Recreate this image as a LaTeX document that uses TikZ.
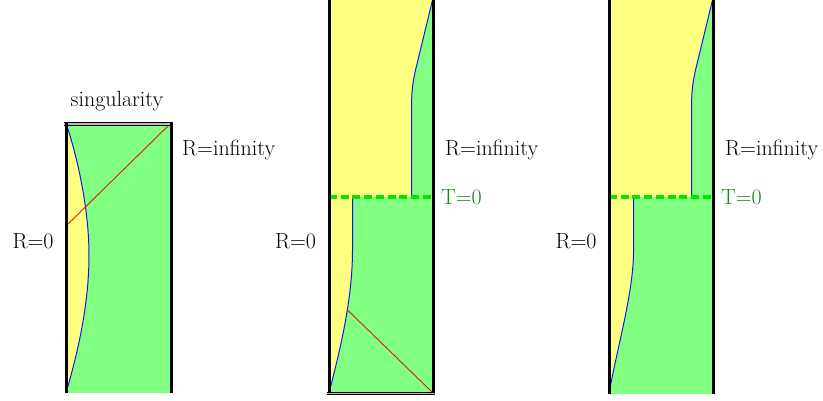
\documentclass[tikz,border=0pt]{standalone}
\definecolor{yel}{RGB}{255,255,128}
\definecolor{grn}{RGB}{128,255,128}
\definecolor{tgreen}{RGB}{20,135,20}
\definecolor{dashgreen}{RGB}{0,230,0}
\definecolor{curveblue}{RGB}{20,20,240}
\definecolor{linered}{RGB}{235,20,20}
\tikzset{
  border/.style={line width=3pt,black},
  sing/.style={draw=black,line width=1.1pt,double=gray!55,double distance=1.6pt},
  worldline/.style={curveblue,line width=1pt},
  ray/.style={linered,line width=0.9pt},
  tzero/.style={dashgreen,line width=4pt,dash pattern=on 8pt off 3.7pt},
  lab/.style={inner sep=0pt,font=\fontsize{22}{26}\selectfont,text=black},
  tlab/.style={lab,text=tgreen},
}
\begin{document}
\begin{tikzpicture}[x=1pt,y=-1pt]
\useasboundingbox (0,0) rectangle (823,400);
% ---------------- left diagram ----------------
\fill[grn] (66,123) rectangle (171,393);
\fill[yel] (66,123) .. controls (80,165) and (89,215) .. (89,255) .. controls (89,300) and (80,345) .. (66,393) -- cycle;
\draw[worldline] (66,123) .. controls (80,165) and (89,215) .. (89,255) .. controls (89,300) and (80,345) .. (66,393);
\coordinate (la) at (66,226);
\coordinate (lb) at (170,124);
\draw[ray] (la) -- (lb);
\coordinate (lt1) at (64,124);
\coordinate (lt2) at (173,124);
\draw[sing] (lt1) -- (lt2);
\coordinate (ll1) at (66,122);
\coordinate (ll2) at (66,393);
\coordinate (lr1) at (171,122);
\coordinate (lr2) at (171,393);
\draw[border] (ll1) -- (ll2);
\draw[border] (lr1) -- (lr2);
\node[lab] (singlab) at (117,101) {singularity};
\node[lab,anchor=west] (linf) at (182,150) {R=infinity};
\node[lab] (lzero) at (33,241.5) {R=0};
% ---------------- middle diagram ----------------
\fill[yel] (329,-5) rectangle (433,197);
\fill[grn] (434,-6) -- (416.5,66) .. controls (412.5,82) and (411.5,92) .. (411.5,110) -- (411.5,197) -- (433,197) -- cycle;
\draw[worldline] (434,-6) -- (416.5,66) .. controls (412.5,82) and (411.5,92) .. (411.5,110) -- (411.5,197);
\fill[grn] (329,197) rectangle (433,393);
\fill[yel] (329,197) -- (352.5,197) -- (352.5,250) .. controls (352.5,300) and (340,350) .. (329,393) -- cycle;
\draw[worldline] (352.5,197) -- (352.5,250) .. controls (352.5,300) and (340,350) .. (329,393);
\coordinate (ma) at (347,309.5);
\coordinate (mb) at (432,392);
\draw[ray] (ma) -- (mb);
\coordinate (md1) at (329,197);
\coordinate (md2) at (433,197);
\draw[tzero] (md1) -- (md2);
\coordinate (mb1) at (327,393.5);
\coordinate (mb2) at (435,393.5);
\draw[sing] (mb1) -- (mb2);
\coordinate (ml1) at (329,-5);
\coordinate (ml2) at (329,393);
\coordinate (mr1) at (433,-5);
\coordinate (mr2) at (433,393);
\draw[border] (ml1) -- (ml2);
\draw[border] (mr1) -- (mr2);
\node[lab,anchor=west] (minf) at (445,150) {R=infinity};
\node[tlab,anchor=west] (mt) at (441,197) {T=0};
\node[lab] (mzero) at (295.5,241.5) {R=0};
% ---------------- right diagram ----------------
\fill[yel] (609,-5) rectangle (713,197);
\fill[grn] (714,-6) -- (696.5,66) .. controls (692.5,82) and (691.5,92) .. (691.5,110) -- (691.5,197) -- (713,197) -- cycle;
\draw[worldline] (714,-6) -- (696.5,66) .. controls (692.5,82) and (691.5,92) .. (691.5,110) -- (691.5,197);
\fill[grn] (609,197) rectangle (713,394);
\fill[yel] (609,197) -- (633.5,197) -- (633.5,255) .. controls (632.5,295) and (618,345) .. (609,393) -- cycle;
\draw[worldline] (633.5,197) -- (633.5,255) .. controls (632.5,295) and (618,345) .. (609,393);
\coordinate (rd1) at (609,197);
\coordinate (rd2) at (713,197);
\draw[tzero] (rd1) -- (rd2);
\coordinate (rl1) at (609,-5);
\coordinate (rl2) at (609,394);
\coordinate (rr1) at (713,-5);
\coordinate (rr2) at (713,394);
\draw[border] (rl1) -- (rl2);
\draw[border] (rr1) -- (rr2);
\node[lab,anchor=west] (rinf) at (725,150) {R=infinity};
\node[tlab,anchor=west] (rt) at (721,197) {T=0};
\node[lab] (rzero) at (576,241.5) {R=0};
\end{tikzpicture}
\end{document}
